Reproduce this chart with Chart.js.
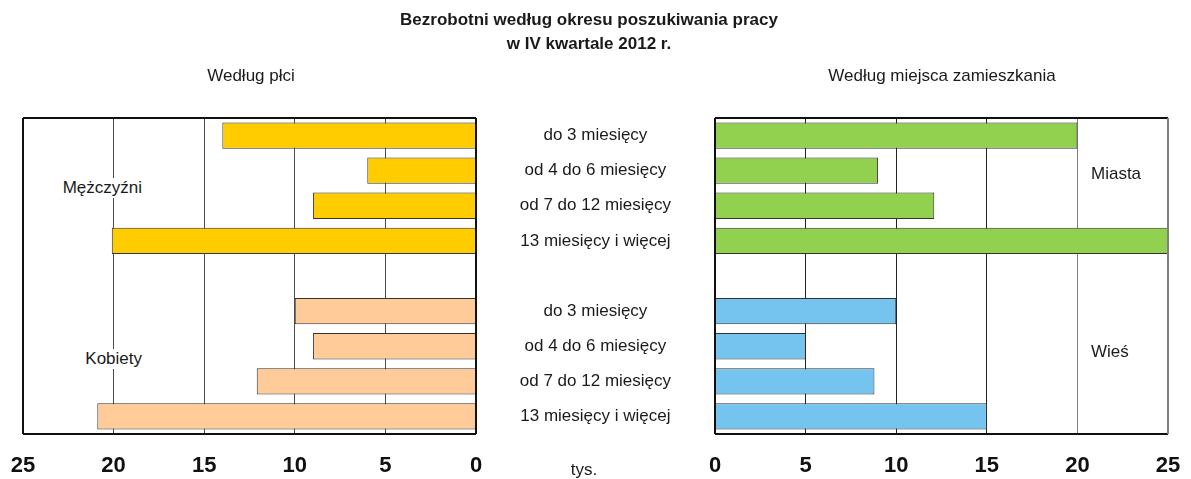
<!DOCTYPE html>
<html><head><meta charset="utf-8">
<script src="https://cdn.jsdelivr.net/npm/chart.js@4"></script>
<style>
body{margin:0;width:1191px;height:479px;position:relative;background:#fff;overflow:hidden;font-family:'Liberation Sans',sans-serif;color:#1a1a1a}
.t{position:absolute;white-space:nowrap;line-height:20px}
.c{position:absolute;top:0}
</style></head><body>
<div class="c" style="left:0"><canvas id="cl" width="500" height="479"></canvas></div>
<div class="c" style="left:476px"><canvas id="cr" width="715" height="479"></canvas></div>
<div class="t" style="left:0;width:1178px;top:8px;text-align:center;font-weight:bold;font-size:17px;line-height:24px">Bezrobotni według okresu poszukiwania pracy<br>w IV kwartale 2012 r.</div>
<div class="t" style="left:151px;width:200px;top:66px;text-align:center;font-size:17px">Według płci</div>
<div class="t" style="left:792px;width:300px;top:66px;text-align:center;font-size:17px">Według miejsca zamieszkania</div>
<div class="t" style="right:1047px;top:178px;font-size:17px;background:#fff;padding:0 2px">Mężczyźni</div>
<div class="t" style="right:1047px;top:349px;font-size:17px;background:#fff;padding:0 2px">Kobiety</div>
<div class="t" style="left:1091px;top:164px;font-size:17px">Miasta</div>
<div class="t" style="left:1091px;top:342px;font-size:17px">Wieś</div>
<div class="t" style="left:554px;width:60px;top:460px;text-align:center;font-size:17px">tys.</div>
<script>
const categories = ['do 3 miesięcy','od 4 do 6 miesięcy','od 7 do 12 miesięcy','13 miesięcy i więcej'];
const men = [14.0, 6.0, 9.0, 20.1];
const women = [10.0, 9.0, 12.1, 20.9];
const urban = [20.0, 9.0, 12.1, 25.0];
const rural = [10.0, 5.0, 8.8, 15.0];
const xTickStep = 5;
const xMax = 25;

const gap = [null];
const empty4 = [null, null, null, null];
const rowLabels = [...categories, '', ...categories];
const top4 = arr => [...arr, ...gap, ...empty4];
const bottom4 = arr => [...empty4, ...gap, ...arr];

const FONT = "'Liberation Sans',sans-serif";

const boxPlugin = {
  id: 'box',
  afterDatasetsDraw(chart, args, opts) {
    const a = chart.chartArea, c = chart.ctx;
    c.save();
    c.lineWidth = 2;
    const line = (x1, y1, x2, y2, col) => { c.strokeStyle = col; c.beginPath(); c.moveTo(x1, y1); c.lineTo(x2, y2); c.stroke(); };
    line(a.left, a.top, a.right, a.top, '#111');
    line(a.left, a.bottom, a.right, a.bottom, '#111');
    line(a.left, a.top, a.left, a.bottom, opts.leftColor || '#111');
    line(a.right, a.top, a.right, a.bottom, opts.rightColor || '#111');
    c.restore();
  }
};

const barStyle = {borderColor: '#333333', borderWidth: 1, grouped: false, categoryPercentage: 1, barPercentage: 0.75};

const fitX = s => { s.height = 45; s.paddingLeft = 0; s.paddingRight = 0; };

new Chart(document.getElementById('cl'), {
  type: 'bar',
  data: {labels: rowLabels, datasets: [
    {data: top4(men), backgroundColor: '#FFCC00', ...barStyle},
    {data: bottom4(women), backgroundColor: '#FFCC99', ...barStyle}
  ]},
  options: {
    indexAxis: 'y', responsive: false, animation: false, devicePixelRatio: 1,
    layout: {padding: {left: 23, right: 24, top: 118, bottom: 0}},
    plugins: {legend: {display: false}, tooltip: {enabled: false}, box: {}},
    scales: {
      x: {type: 'linear', min: 0, max: xMax, reverse: true,
        ticks: {stepSize: xTickStep, padding: 19, color: '#111', font: {family: FONT, size: 22, weight: 'bold'}},
        grid: {color: '#4d4d4d', lineWidth: 1, drawTicks: false},
        border: {display: false},
        afterFit: fitX},
      y: {display: false}
    }
  },
  plugins: [boxPlugin]
});

new Chart(document.getElementById('cr'), {
  type: 'bar',
  data: {labels: rowLabels, datasets: [
    {data: top4(urban), backgroundColor: '#92D050', ...barStyle},
    {data: bottom4(rural), backgroundColor: '#75C4EF', ...barStyle}
  ]},
  options: {
    indexAxis: 'y', responsive: false, animation: false, devicePixelRatio: 1,
    layout: {padding: {left: 0, right: 23, top: 118, bottom: 0}},
    plugins: {legend: {display: false}, tooltip: {enabled: false}, box: {rightColor: '#808080'}},
    scales: {
      x: {type: 'linear', min: 0, max: xMax,
        ticks: {stepSize: xTickStep, padding: 19, color: '#111', font: {family: FONT, size: 22, weight: 'bold'}},
        grid: {color: ctx => (ctx.tick && ctx.tick.value >= 20) ? '#808080' : '#222', lineWidth: 1, drawTicks: false},
        border: {display: false},
        afterFit: fitX},
      y: {position: 'left',
        ticks: {crossAlign: 'center', padding: 44, color: '#1a1a1a', font: {family: FONT, size: 17}},
        grid: {display: false, drawTicks: false},
        border: {display: false},
        afterFit: s => { s.width = 239; s.paddingTop = 0; s.paddingBottom = 0; }}
    }
  },
  plugins: [boxPlugin]
});
</script>
</body></html>
